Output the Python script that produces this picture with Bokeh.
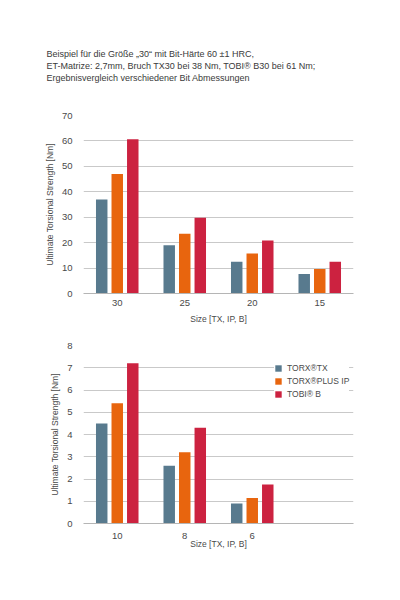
from bokeh.plotting import figure
from bokeh.models import ColumnDataSource, Title, Legend, LegendItem, FixedTicker
from bokeh.transform import dodge
from bokeh.layouts import column
from bokeh.embed import file_html
from bokeh.resources import INLINE

title_lines = [
    "Beispiel für die Größe „30“ mit Bit-Härte 60 ±1 HRC,",
    "ET-Matrize: 2,7mm, Bruch TX30 bei 38 Nm, TOBI® B30 bei 61 Nm;",
    "Ergebnisvergleich verschiedener Bit Abmessungen",
]

series_names = ["TORX®TX", "TORX®PLUS IP", "TOBI® B"]
colors = ["#587a8e", "#e8650e", "#cc2240"]

sizes_top = ["30", "25", "20", "15"]
tx_top = [37.0, 19.0, 12.5, 7.7]
ip_top = [47.0, 23.5, 15.7, 9.6]
b_top = [60.7, 29.8, 20.8, 12.5]

sizes_bot = ["10", "8", "6", " "]
tx_bot = [4.5, 2.6, 0.9, None]
ip_bot = [5.4, 3.2, 1.15, None]
b_bot = [7.2, 4.3, 1.75, None]

FONT = "Liberation Sans"
TXT = "#4a4a4a"
GRID = "#c9c9c9"


def nanify(vals):
    return [v if v is not None else float("nan") for v in vals]


def make_fig(factors, tx, ip, b, ymax, yticks, height, top_border, bottom_border, label_standoff):
    src = ColumnDataSource(dict(x=factors, tx=nanify(tx), ip=nanify(ip), b=nanify(b)))
    p = figure(x_range=factors, y_range=(0, ymax), width=388, height=height,
               output_backend="svg", toolbar_location=None,
               min_border_left=83, min_border_right=35,
               min_border_top=top_border, min_border_bottom=bottom_border)
    p.outline_line_color = None
    p.background_fill_color = "white"
    p.xgrid.grid_line_color = None
    p.ygrid.grid_line_color = GRID
    p.ygrid.grid_line_width = 1
    p.yaxis.ticker = FixedTicker(ticks=yticks)
    p.yaxis.axis_line_color = None
    p.yaxis.major_tick_line_color = None
    p.yaxis.minor_tick_line_color = None
    p.xaxis.axis_line_color = "#b5b5b5"
    p.xaxis.major_tick_line_color = None
    p.xaxis.minor_tick_line_color = None
    for ax in (p.xaxis, p.yaxis):
        ax.major_label_text_font = FONT
        ax.major_label_text_font_size = "9.5px"
        ax.major_label_text_color = TXT
        ax.axis_label_text_font = FONT
        ax.axis_label_text_font_size = "8.5px"
        ax.axis_label_text_font_style = "normal"
        ax.axis_label_text_color = TXT
    p.yaxis.axis_label = "Ultimate Torsional Strength [Nm]"
    p.yaxis.axis_label_standoff = 4
    p.xaxis.axis_label = "Size [TX, IP, B]"
    p.xaxis.axis_label_standoff = label_standoff
    p.xaxis.major_label_standoff = 0
    r1 = p.vbar(x=dodge("x", -0.23, range=p.x_range), top="tx", width=0.17, source=src,
                fill_color=colors[0], line_color=None)
    r2 = p.vbar(x=dodge("x", 0.0, range=p.x_range), top="ip", width=0.17, source=src,
                fill_color=colors[1], line_color=None)
    r3 = p.vbar(x=dodge("x", 0.23, range=p.x_range), top="b", width=0.17, source=src,
                fill_color=colors[2], line_color=None)
    return p, [r1, r2, r3]


p1, _ = make_fig(sizes_top, tx_top, ip_top, b_top, 70, [0, 10, 20, 30, 40, 50, 60, 70],
                 330, 115, 37, 5)
# invisible spacer between the note and the plot area
p1.add_layout(Title(text=" ", text_font=FONT, text_font_size="9px", standoff=21), "above")
for line in reversed(title_lines):
    p1.add_layout(Title(text=line, align="left", offset=-37, text_font=FONT,
                        text_font_size="9px", text_font_style="normal",
                        text_color="#3a3a3a", standoff=0), "above")

p2, rs = make_fig(sizes_bot, tx_bot, ip_bot, b_bot, 8, [0, 1, 2, 3, 4, 5, 6, 7, 8],
                  230, 15, 37, -5)
legend = Legend(items=[LegendItem(label=n, renderers=[r]) for n, r in zip(series_names, rs)],
                location=(191, 124), orientation="vertical",
                glyph_width=8, glyph_height=8, label_standoff=5, spacing=3, padding=2,
                label_text_font=FONT, label_text_font_size="8.5px", label_text_color=TXT,
                border_line_color=None, background_fill_color="white", background_fill_alpha=1.0)
p2.add_layout(legend, "center")

layout = column(p1, p2, spacing=0)
open("out.html", "w").write(file_html(layout, INLINE))
